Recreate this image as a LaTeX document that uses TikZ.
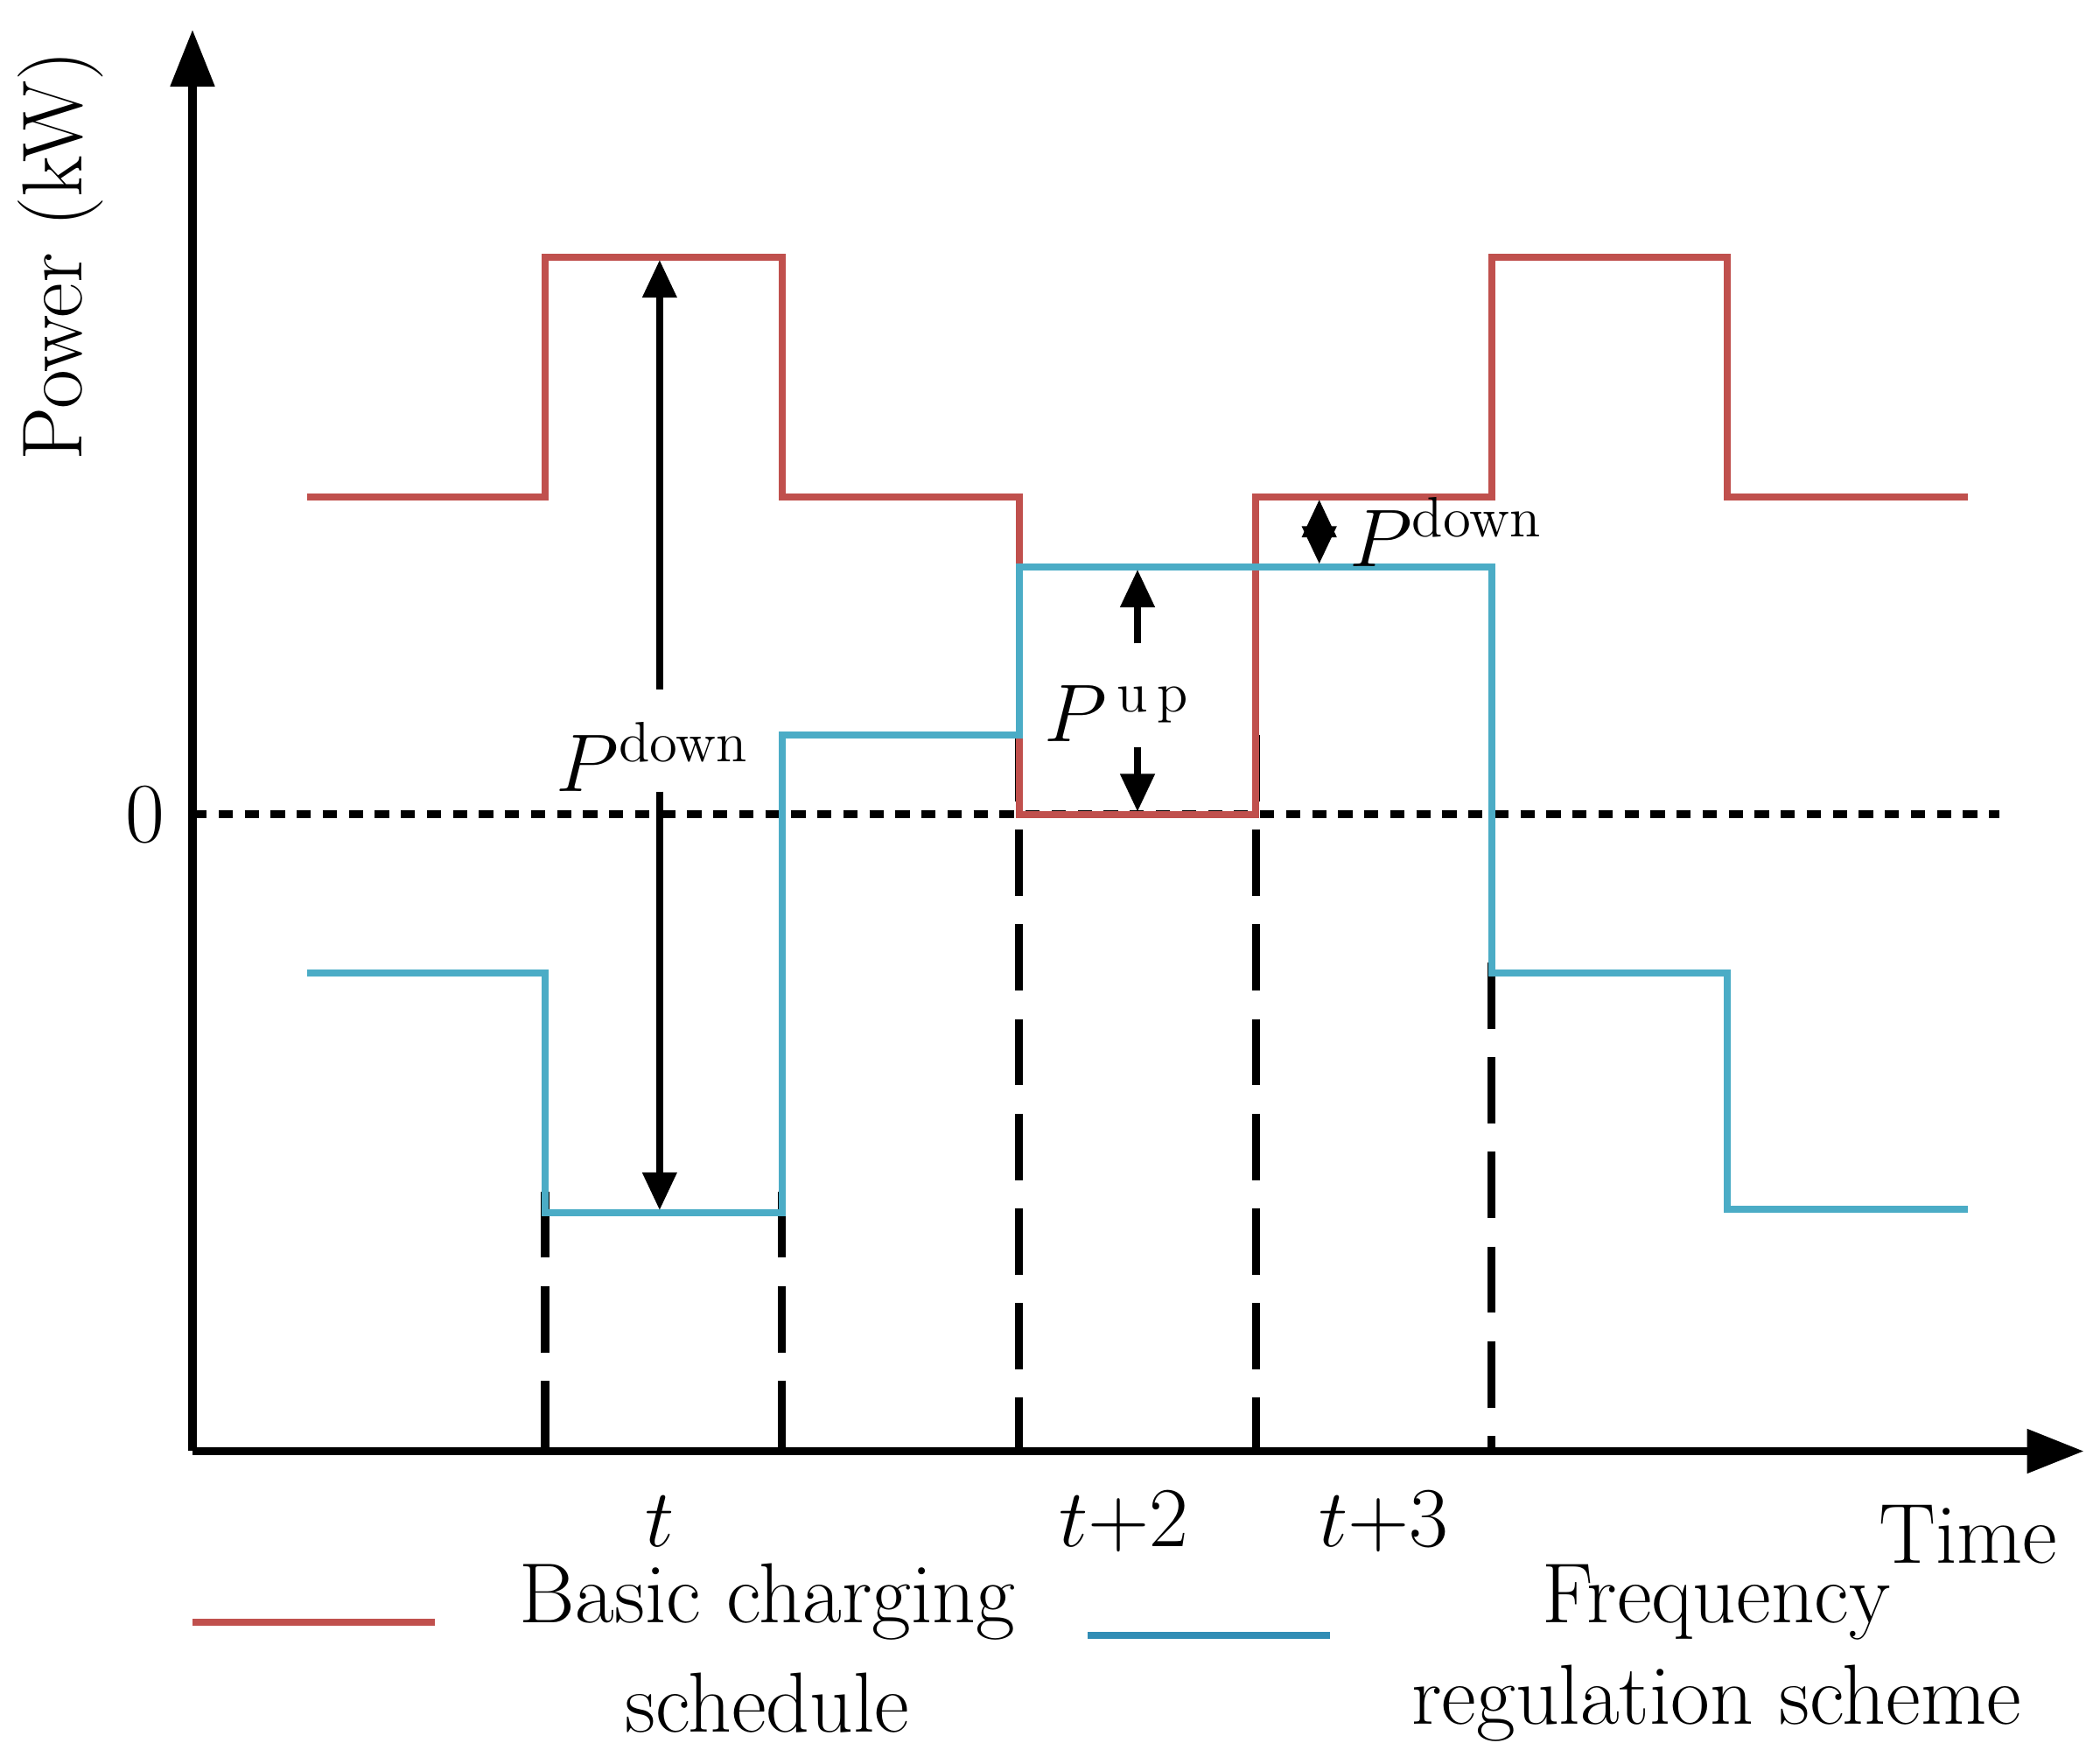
\documentclass[tikz,border=0pt]{standalone}
\usetikzlibrary{arrows.meta}
\definecolor{rd}{RGB}{192,80,77}
\definecolor{bl}{RGB}{75,172,198}
\definecolor{bl2}{RGB}{31,120,170}
\begin{document}
\begin{tikzpicture}[x=0.01cm,y=-0.01cm,
  red/.style={rd,line width=1.5pt},
  blue/.style={bl,line width=1.5pt},
  vd/.style={black,line width=1.7pt,dash pattern=on 14pt off 6pt},
  ax/.style={black,line width=1.7pt,-{Triangle[length=12pt,width=9pt]}},
  dar/.style={black,line width=1.5pt,{Triangle[length=8pt,width=7pt]}-{Triangle[length=8pt,width=7pt]}},
  sar/.style={black,line width=1.5pt,-{Triangle[length=8pt,width=7pt]}},
  lbl/.style={font=\fontsize{18}{22}\selectfont}]
\useasboundingbox (0,0) rectangle (1560,1305);
% axes
\coordinate (o) at (143,1078); \coordinate (ytop) at (143,22); \coordinate (xend) at (1548,1078);
\draw[ax] (o) -- (ytop);
\draw[ax] (o) -- (xend);
\coordinate (z0) at (143,605); \coordinate (z1) at (1485,605);
\draw[black,line width=1.7pt,dash pattern=on 3pt off 2.5pt] (z0) -- (z1);
% vertical dashed
\foreach \x/\y in {405/885,581/885,757/546,933/546,1108/715}
  \draw[vd] (\x,\y) -- (\x,1078);
% red
\draw[red] (228,369) -- (405,369) -- (405,191) -- (581,191) -- (581,369) -- (757,369) -- (757,605) -- (933,605) -- (933,369) -- (1108,369) -- (1108,191) -- (1283,191) -- (1283,369) -- (1462,369);
% blue
\draw[blue] (228,723) -- (405,723) -- (405,901) -- (581,901) -- (581,546) -- (757,546) -- (757,421) -- (1108,421) -- (1108,723) -- (1283,723) -- (1283,898) -- (1462,898);
% annotations
\node[lbl] (pd1) at (485,562) {$P^{\mathrm{down}}$};
\coordinate (a1) at (490,193); \coordinate (a2) at (490,899);
\draw[sar] (490,512) -- (a1);
\draw[sar] (490,588) -- (a2);
\node[lbl] (pu) at (830,530) {$P^{\,\mathrm{u\,p}}$};
\draw[sar] (845,478) -- (845,423);
\draw[sar] (845,555) -- (845,603);
\draw[dar] (980,371) -- (980,419);
\node[lbl,anchor=west] (pd2) at (990,395) {$P^{\mathrm{down}}$};
% labels
\node[lbl] (zero) at (108,605) {0};
\node[lbl,rotate=90] (py) at (45,190) {Power (kW)};
\node[lbl] (t1) at (490,1130) {$t$};
\node[lbl] (t2) at (835,1130) {$t$+2};
\node[lbl] (t3) at (1028,1130) {$t$+3};
\node[lbl] (tm) at (1462,1140) {Time};
% legend
\coordinate (l1) at (143,1205); \coordinate (l2) at (323,1205);
\draw[red] (l1) -- (l2);
\node[lbl] (lt1) at (570,1190) {Basic charging};
\node[lbl] (lt1b) at (570,1265) {schedule};
\coordinate (l3) at (808,1215); \coordinate (l4) at (988,1215);
\draw[bl2!60!bl,line width=1.5pt] (l3) -- (l4);
\node[lbl] (lt2) at (1275,1190) {Frequency};
\node[lbl] (lt2b) at (1275,1265) {regulation scheme};
\end{tikzpicture}
\end{document}
